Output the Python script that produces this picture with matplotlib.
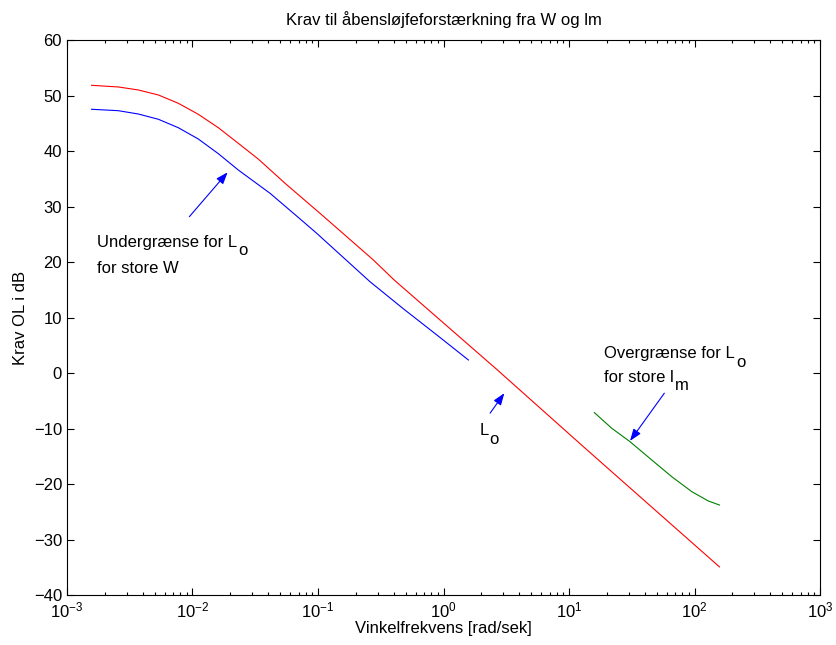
import matplotlib
matplotlib.use("Agg")
import matplotlib.pyplot as plt
from matplotlib.ticker import LogLocator, NullFormatter

plt.rcParams["font.family"] = ["Liberation Sans", "DejaVu Sans"]
plt.rcParams["mathtext.fontset"] = "custom"
plt.rcParams["mathtext.rm"] = "Liberation Sans"
plt.rcParams["mathtext.it"] = "Liberation Sans"
plt.rcParams["font.size"] = 12

# Krav til L_o (rød), undergrænse (blå) og overgrænse (grøn)
red_w = [0.00157, 0.00257, 0.00370, 0.00535, 0.00771, 0.01112, 0.01607,
         0.02317, 0.0334, 0.0546, 0.1038, 0.276, 0.404, 2.65, 13.4, 157.8]
red_db = [51.87, 51.57, 51.03, 50.13, 48.63, 46.65, 44.23, 41.42, 38.59,
          34.22, 28.8, 20.4, 16.8, 0.7, -13.5, -34.9]

blue_w = [0.00157, 0.00256, 0.00370, 0.00535, 0.00771, 0.01112, 0.01607,
          0.02317, 0.0415, 0.0719, 0.0977, 0.259, 0.479, 0.883, 1.578]
blue_db = [47.55, 47.30, 46.70, 45.75, 44.23, 42.2, 39.55, 36.61, 32.41,
           27.8, 25.2, 16.5, 11.6, 6.9, 2.38]

green_w = [15.9, 21.9, 30.6, 45.6, 65.8, 95.1, 128.8, 157.8]
green_db = [-7.1, -9.93, -12.34, -15.64, -18.65, -21.35, -23.03, -23.75]


def label(ax, x, y, main, sub):
    # MATLAB-agtigt subscript: fuld størrelse, sænket under grundlinjen
    t = ax.text(x, y, main, va="baseline")
    ax.annotate(sub, xy=(1, 0), xycoords=t, xytext=(0.5, -4.2),
                textcoords="offset points", va="baseline", ha="left")
    return t


def main():
    fig = plt.figure(figsize=(8.36, 6.45), dpi=100)
    ax = fig.add_axes([0.0801, 0.0772, 0.9009, 0.8605])

    ax.semilogx(red_w, red_db, color="red", lw=0.8)
    ax.semilogx(blue_w, blue_db, color="blue", lw=0.8)
    ax.semilogx(green_w, green_db, color="green", lw=0.8)

    ax.set_xlim(1e-3, 1e3)
    ax.set_ylim(-40, 60)
    ax.set_yticks(range(-40, 61, 10))
    ax.xaxis.set_major_locator(LogLocator(base=10, numticks=10))
    ax.xaxis.set_minor_locator(LogLocator(base=10, subs=range(2, 10), numticks=20))
    ax.xaxis.set_minor_formatter(NullFormatter())
    ax.tick_params(which="both", direction="in", top=True, right=True,
                   labelsize=12, width=0.8)
    ax.tick_params(which="major", length=5)
    ax.tick_params(which="minor", length=2.5)
    for s in ax.spines.values():
        s.set_linewidth(0.8)

    ax.set_title("Krav til åbensløjfeforstærkning fra W og lm", fontsize=12, pad=11)
    ax.set_xlabel("Vinkelfrekvens [rad/sek]", fontsize=12, labelpad=1)
    ax.set_ylabel("Krav OL i dB", fontsize=12, labelpad=4)

    arrow = dict(arrowstyle="-|>,head_length=0.6,head_width=0.22",
                 color="blue", lw=0.8, shrinkA=0, shrinkB=0)
    ax.annotate("", xy=(0.01905, 36.2), xytext=(0.00944, 28.2), arrowprops=arrow)
    ax.annotate("", xy=(3.05, -3.6), xytext=(2.35, -7.2), arrowprops=arrow)
    ax.annotate("", xy=(30.6, -12.2), xytext=(57.4, -3.6), arrowprops=arrow)

    label(ax, 0.001745, 22.8, "Undergrænse for L", "o")
    ax.text(0.001745, 18.0, "for store W", va="baseline")
    label(ax, 1.93, -11.1, "L", "o")
    label(ax, 19.1, 2.7, "Overgrænse for L", "o")
    label(ax, 19.1, -1.5, "for store l", "m")

    fig.savefig("out.png", dpi=100)


if __name__ == "__main__":
    main()
